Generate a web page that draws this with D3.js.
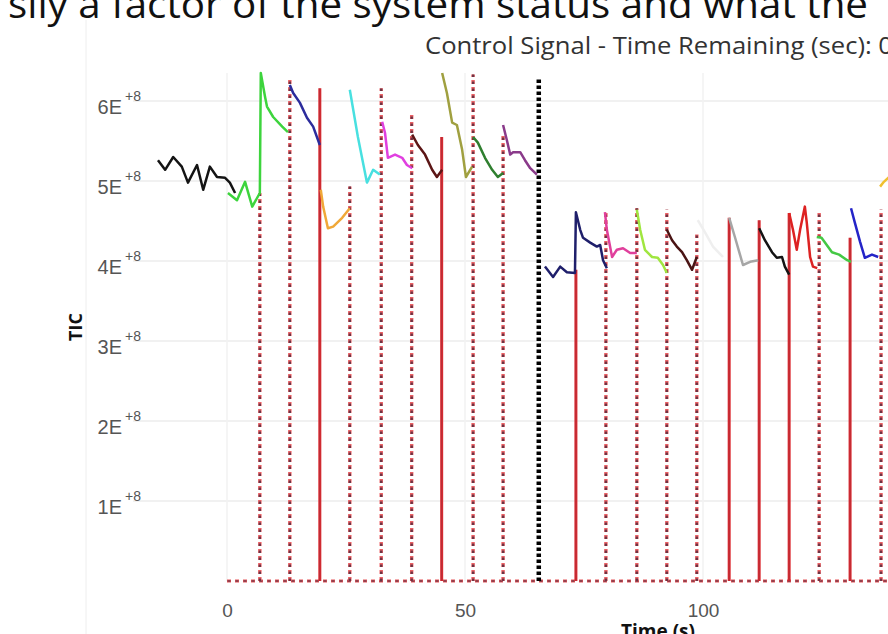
<!DOCTYPE html>
<html>
<head>
<meta charset="utf-8">
<script src="https://cdn.jsdelivr.net/npm/d3@7"></script>
<style>
  body { margin: 0; background: #fff; }
  svg { display: block; font-family: "Open Sans", "Noto Sans", sans-serif; }
</style>
</head>
<body>
<div id="chart"></div>
<script>
// event times of the control signal (s), its TIC level and line style
var eventTimes  = [6.9, 13.2, 19.5, 25.8, 32.4, 38.8, 45.1, 51.7, 58.0, 65.5, 73.3, 79.6, 86.1, 92.4, 98.7, 105.5, 111.8, 118.1, 124.4, 130.9, 137.4]
var eventValues = [4.85e8, 6.29e8, 6.16e8, 4.93e8, 6.16e8, 5.85e8, 5.55e8, 6.33e8, 5.58e8, 6.29e8, 3.89e8, 4.61e8, 4.66e8, 4.64e8, 4.33e8, 4.54e8, 4.51e8, 4.60e8, 4.61e8, 4.29e8, 4.64e8]
var eventKinds  = ["dot", "dot", "solid", "dot", "dot", "dot", "solid", "dot", "dot", "black", "solid", "dot", "dot", "dot", "dot", "solid", "solid", "solid", "dot", "solid", "dot"]

var xTicks = [0, 50, 100]
var yTicks = [1e8, 2e8, 3e8, 4e8, 5e8, 6e8]

// TIC traces, [time, TIC]
var tr01 = [[-14.5,5.26e8],[-13.0,5.14e8],[-11.3,5.30e8],[-9.5,5.18e8],[-8.2,4.98e8],[-6.3,5.20e8],[-5.0,4.89e8],[-3.6,5.18e8],[-2.1,5.05e8],[-0.4,5.04e8],[0.6,4.98e8],[1.7,4.85e8]]
var tr02 = [[0.2,4.85e8],[2.1,4.76e8],[3.8,4.99e8],[5.3,4.68e8],[6.9,4.85e8],[7.1,6.35e8],[8.0,6.05e8],[8.4,5.93e8],[9.7,5.80e8],[11.6,5.68e8],[12.8,5.61e8]]
var tr03 = [[13.2,6.20e8],[13.9,6.10e8],[15.3,5.98e8],[16.8,5.79e8],[18.1,5.68e8],[19.5,5.45e8]]
var tr04 = [[19.7,4.89e8],[20.2,4.68e8],[21.2,4.41e8],[22.3,4.43e8],[24.2,4.54e8],[25.8,4.66e8]]
var tr05 = [[25.8,6.14e8],[27.5,5.55e8],[29.4,4.98e8],[30.7,5.14e8],[32.1,5.08e8]]
var tr06 = [[32.6,5.74e8],[33.2,5.60e8],[33.8,5.29e8],[35.3,5.33e8],[36.8,5.29e8],[37.8,5.20e8],[38.9,5.16e8]]
var tr07 = [[38.9,5.58e8],[40.1,5.45e8],[41.6,5.33e8],[43.1,5.14e8],[44.1,5.05e8],[45.2,5.14e8]]
var tr08 = [[45.2,6.35e8],[46.2,6.10e8],[47.3,5.73e8],[48.3,5.70e8],[49.4,5.39e8],[50.2,5.05e8],[51.5,5.18e8]]
var tr09 = [[51.7,5.55e8],[52.7,5.48e8],[54.2,5.29e8],[55.7,5.14e8],[56.9,5.05e8],[58.0,5.10e8]]
var tr10 = [[58.0,5.70e8],[58.8,5.51e8],[59.5,5.33e8],[60.1,5.36e8],[61.6,5.36e8],[62.6,5.26e8],[63.7,5.16e8],[65.1,5.08e8]]
var tr11 = [[66.8,3.93e8],[68.5,3.80e8],[70.0,3.93e8],[71.4,3.86e8],[73.1,3.85e8],[73.3,4.61e8],[74.2,4.39e8],[74.8,4.29e8],[76.3,4.23e8],[77.7,4.18e8],[78.4,4.20e8],[79.0,4.01e8],[79.8,3.91e8]]
var tr12 = [[79.4,4.61e8],[79.8,4.39e8],[80.9,4.05e8],[81.9,4.14e8],[83.2,4.16e8],[84.7,4.10e8],[86.1,4.10e8]]
var tr13 = [[86.1,4.64e8],[86.8,4.39e8],[87.8,4.14e8],[89.3,4.05e8],[90.5,4.04e8],[91.6,3.95e8],[92.4,3.85e8]]
var tr14 = [[92.4,4.39e8],[93.5,4.26e8],[94.5,4.18e8],[95.6,4.11e8],[96.6,4.01e8],[97.7,3.89e8],[98.7,4.05e8]]
var tr15 = [[98.9,4.51e8],[100.4,4.36e8],[102.1,4.18e8],[104.2,4.05e8]]
var tr16 = [[105.5,4.54e8],[106.7,4.30e8],[108.4,3.95e8],[109.9,3.99e8],[111.6,4.01e8]]
var tr17 = [[111.8,4.41e8],[113.0,4.26e8],[114.5,4.11e8],[115.5,4.04e8],[116.6,4.05e8],[117.2,3.93e8],[118.1,3.83e8]]
var tr18 = [[118.1,4.60e8],[118.9,4.39e8],[119.7,4.14e8],[120.4,4.39e8],[121.4,4.68e8],[121.8,4.48e8],[122.5,4.05e8],[123.1,3.93e8],[124.0,3.91e8]]
var tr19 = [[123.9,4.30e8],[124.9,4.29e8],[126.0,4.20e8],[127.1,4.11e8],[128.6,4.08e8],[130.3,4.01e8],[131.1,3.99e8]]
var tr20 = [[131.1,4.66e8],[131.9,4.48e8],[133.0,4.24e8],[134.0,4.04e8],[135.5,4.08e8],[136.8,4.05e8]]
var tr21 = [[137.2,4.93e8],[138.0,4.99e8],[138.9,5.04e8],[140.5,5.10e8]]

var traces = [tr01, tr02, tr03, tr04, tr05, tr06, tr07, tr08, tr09, tr10, tr11, tr12, tr13, tr14, tr15, tr16, tr17, tr18, tr19, tr20, tr21]
var traceColors = ["#141414", "#3dd43d", "#2c2c9c", "#f0a838", "#48e0e0", "#e040e0", "#5c1616", "#a0a040", "#2f7f2f", "#8a3a8a",
                   "#1f1f6b", "#e0409c", "#a0e640", "#4a1414", "#efefef", "#a6a6a6", "#141414", "#dd2222", "#44c844", "#2424c8", "#f0c030"]

var W = 888, H = 634

var svg = d3.select("#chart")
    .append("svg")
        .attr("width", W)
        .attr("height", H)

var x = d3.scaleLinear().domain([0, 100]).range([227, 703])
var y = d3.scaleLinear().domain([0, 6.35e8]).range([581, 73])
var left = 133

// top caption, cropped by the page edge as in the screenshot
svg.append("text")
    .attr("x", 8)
    .attr("y", 18)
    .attr("textLength", 860)
    .attr("lengthAdjust", "spacingAndGlyphs")
    .style("font-size", "38px")
    .style("fill", "#111")
    .text("sily a factor of the system status and what the")

svg.append("line")
    .attr("x1", 86).attr("x2", 86)
    .attr("y1", 20).attr("y2", H)
    .attr("stroke", "#eeeeee")

svg.append("text")
    .attr("x", 425)
    .attr("y", 54)
    .attr("textLength", 468)
    .attr("lengthAdjust", "spacingAndGlyphs")
    .style("font-size", "23px")
    .style("fill", "#333")
    .text("Control Signal - Time Remaining (sec): 0")

// grid
svg.append("g")
    .selectAll("line")
    .data(yTicks)
    .join("line")
        .attr("x1", left).attr("x2", W)
        .attr("y1", function(d) { return y(d) }).attr("y2", function(d) { return y(d) })
        .attr("stroke", "#ededed")
        .attr("stroke-width", 1.5)

svg.append("g")
    .selectAll("line")
    .data(xTicks)
    .join("line")
        .attr("x1", function(d) { return x(d) }).attr("x2", function(d) { return x(d) })
        .attr("y1", 73).attr("y2", 581)
        .attr("stroke", "#f2f2f2")
        .attr("stroke-width", 1.5)

// y axis with E+8 labels
var yAxis = svg.append("g")
    .attr("transform", "translate(141,0)")
    .call(d3.axisLeft(y).tickValues(yTicks).tickSize(0).tickPadding(0)
        .tickFormat(function(d) { return (d / 1e8) + "E" }))
yAxis.select(".domain").remove()
yAxis.selectAll("text")
    .attr("dy", "12px")
    .style("font-size", "20px")
    .style("fill", "#555")
    .append("tspan")
        .attr("dy", "-13px")
        .attr("dx", "3px")
        .style("font-size", "14px")
        .text("+8")

// x axis
var xAxis = svg.append("g")
    .attr("transform", "translate(0,601)")
    .call(d3.axisBottom(x).tickValues(xTicks).tickSize(0).tickPadding(0))
xAxis.select(".domain").remove()
xAxis.selectAll("text")
    .attr("dy", "16px")
    .style("font-size", "19px")
    .style("fill", "#555")

svg.append("text")
    .attr("transform", "translate(82,327) rotate(-90)")
    .attr("text-anchor", "middle")
    .style("font-size", "18px")
    .style("font-weight", "bold")
    .style("fill", "#111")
    .text("TIC")

svg.append("text")
    .attr("x", 658)
    .attr("y", 638)
    .attr("text-anchor", "middle")
    .style("font-size", "19px")
    .style("font-weight", "bold")
    .style("fill", "#111")
    .text("Time (s)")

// plot area
svg.append("clipPath").attr("id", "plotclip")
    .append("rect")
        .attr("x", left).attr("y", 70)
        .attr("width", W - left).attr("height", 516)

var plot = svg.append("g").attr("clip-path", "url(#plotclip)")

// control signal baseline
plot.append("line")
    .attr("x1", x(0)).attr("x2", W + 10)
    .attr("y1", y(0)).attr("y2", y(0))
    .attr("stroke", "#e8585c")
    .attr("stroke-width", 3)
    .attr("stroke-dasharray", "4,4")
plot.append("line")
    .attr("x1", x(0)).attr("x2", W + 10)
    .attr("y1", y(0)).attr("y2", y(0))
    .attr("stroke", "#7a3a48")
    .attr("stroke-width", 1.4)
    .attr("stroke-dasharray", "3,5")
    .attr("transform", "translate(0.5,0)")

var events = eventTimes.map(function(t, i) { return { t: t, v: eventValues[i], kind: eventKinds[i] } })

var ev = plot.append("g")
    .selectAll("g")
    .data(events)
    .join("g")

ev.filter(function(d) { return d.kind == "dot" }).append("line")
    .attr("x1", function(d) { return x(d.t) }).attr("x2", function(d) { return x(d.t) })
    .attr("y1", y(0)).attr("y2", function(d) { return y(d.v) })
    .attr("stroke", "#ec6064")
    .attr("stroke-width", 3.4)
    .attr("stroke-dasharray", "4,3")
ev.filter(function(d) { return d.kind == "dot" }).append("line")
    .attr("x1", function(d) { return x(d.t) }).attr("x2", function(d) { return x(d.t) })
    .attr("y1", y(0)).attr("y2", function(d) { return y(d.v) })
    .attr("stroke", "#6e3444")
    .attr("stroke-width", 2.4)
    .attr("stroke-dasharray", "2.5,4.5")

ev.filter(function(d) { return d.kind == "solid" }).append("line")
    .attr("x1", function(d) { return x(d.t) }).attr("x2", function(d) { return x(d.t) })
    .attr("y1", y(0)).attr("y2", function(d) { return y(d.v) })
    .attr("stroke", "#dc2a30")
    .attr("stroke-width", 3)
ev.filter(function(d) { return d.kind == "solid" }).append("line")
    .attr("x1", function(d) { return x(d.t) }).attr("x2", function(d) { return x(d.t) })
    .attr("y1", y(0)).attr("y2", function(d) { return y(d.v) })
    .attr("stroke", "#8a3040")
    .attr("stroke-width", 0.8)
    .attr("stroke-opacity", 0.6)

ev.filter(function(d) { return d.kind == "black" }).append("line")
    .attr("x1", function(d) { return x(d.t) }).attr("x2", function(d) { return x(d.t) })
    .attr("y1", y(0)).attr("y2", function(d) { return y(d.v) })
    .attr("stroke", "#000")
    .attr("stroke-width", 4.5)
    .attr("stroke-dasharray", "3.5,2.5")

// TIC traces
var line = d3.line()
    .x(function(d) { return x(d[0]) })
    .y(function(d) { return y(d[1]) })

plot.append("g")
    .selectAll("path")
    .data(traces)
    .join("path")
        .attr("d", line)
        .attr("fill", "none")
        .attr("stroke", function(d, i) { return traceColors[i] })
        .attr("stroke-width", 2.5)
        .attr("stroke-linejoin", "round")
</script>
</body>
</html>
